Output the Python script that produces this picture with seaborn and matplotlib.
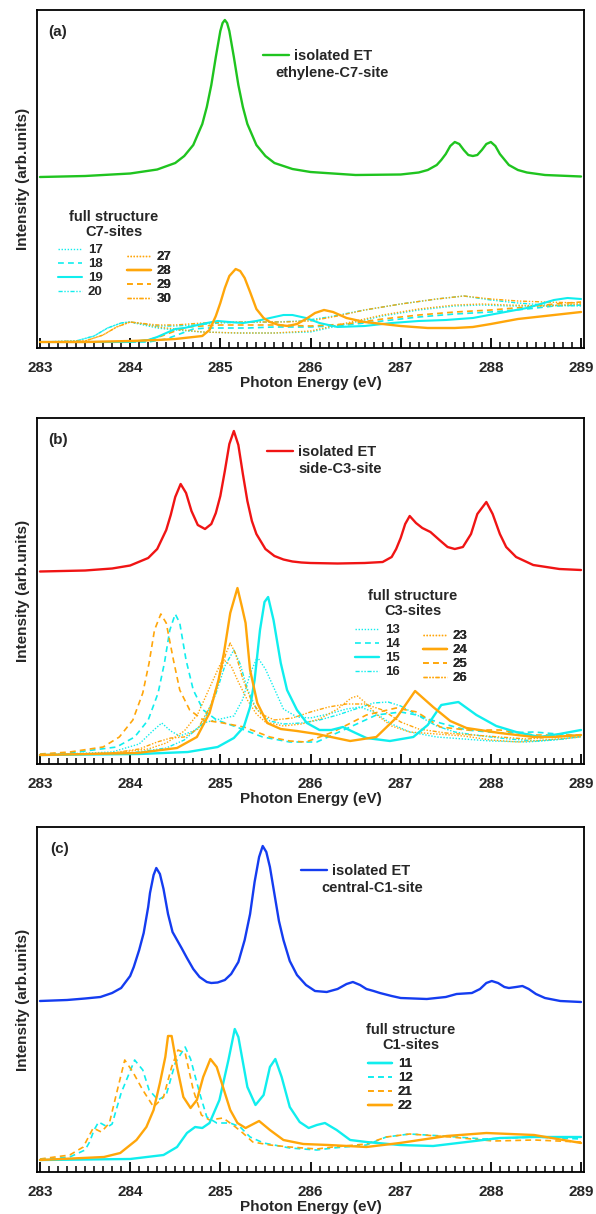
import matplotlib
matplotlib.use('Agg')
import matplotlib.pyplot as plt
import seaborn as sns
from matplotlib.ticker import MultipleLocator

sns.set_style('white')
plt.rcParams['font.family'] = ['Liberation Sans', 'DejaVu Sans']
plt.rcParams['font.weight'] = 'bold'
plt.rcParams['axes.labelweight'] = 'bold'

# ---------------- data (intensity in arbitrary units) ----------------
# panel (a) isolated ET, ethylene-C7-site
E_a_iso = [283.0, 283.5, 284.0, 284.3, 284.5, 284.6, 284.7, 284.8, 284.85, 284.9, 284.95, 285.0, 285.025, 285.05,
           285.075, 285.1, 285.15, 285.2, 285.25, 285.3, 285.4, 285.5, 285.6, 285.8, 286.0, 286.5, 287.0, 287.2,
           287.3, 287.4, 287.45, 287.5, 287.55, 287.6, 287.65, 287.7, 287.75, 287.8, 287.85, 287.9, 287.95, 288.0,
           288.05, 288.1, 288.2, 288.3, 288.4, 288.6, 289.0]
I_a_iso = [171, 172, 174.5, 178.5, 185, 192, 203, 224, 241, 263, 291, 317, 325, 328,
           325, 317, 291, 263, 241, 224, 203, 192, 185, 179, 176, 173, 173.5, 175.5,
           178, 183, 188, 194, 202, 206, 204, 198, 193, 192, 193, 198, 204, 206,
           202, 194, 183, 178, 175.5, 173, 171.5]
# panel (a) full structure C7-sites
E_17 = [283.0, 283.4, 283.6, 283.75, 283.9, 284.0, 284.15, 284.3, 284.5, 284.8, 285.2, 285.6, 286.0, 286.4, 286.8,
        287.2, 287.6, 287.9, 288.2, 288.6, 289.0]
I_17 = [6, 7, 12, 20, 25, 26, 23, 20, 18, 16, 15, 15, 16, 24, 32, 38, 42, 43, 42, 42, 43]
E_18 = [283.0, 284.2, 284.4, 284.55, 284.7, 284.85, 285.0, 285.3, 285.6, 286.0, 286.4, 286.8, 287.2, 287.6, 288.0,
        288.4, 288.7, 289.0]
I_18 = [6, 6, 9, 14, 19, 20, 20, 20, 21, 21, 23, 27, 31, 34, 36, 39, 42, 43]
E_19 = [283.0, 284.0, 284.2, 284.3, 284.4, 284.5, 284.6, 284.7, 284.85, 284.97, 285.1, 285.25, 285.4, 285.55, 285.7,
        285.8, 285.95, 286.1, 286.3, 286.6, 286.9, 287.2, 287.5, 287.8, 288.1, 288.4, 288.7, 288.85, 289.0]
I_19 = [6, 6, 8, 11, 15, 19, 20, 22, 25, 27, 26, 25, 27, 30, 33, 33, 30, 25, 21, 22, 25, 27, 28, 30, 35, 40, 48, 50, 49]
E_20 = [283.0, 283.4, 283.6, 283.75, 283.9, 284.0, 284.15, 284.3, 284.5, 284.7, 285.0, 285.3, 285.6, 285.9, 286.2,
        286.6, 287.0, 287.4, 287.7, 288.0, 288.3, 288.6, 289.0]
I_20 = [6, 7, 12, 20, 25, 26, 24, 22, 22, 23, 25, 26, 26, 27, 31, 38, 44, 49, 52, 48, 45, 43, 42]
E_27 = [283.0, 283.5, 283.7, 283.85, 284.0, 284.15, 284.3, 284.5, 284.8, 285.2, 285.6, 286.0, 286.4, 286.8, 287.2,
        287.6, 287.9, 288.2, 288.6, 289.0]
I_27 = [6, 7, 13, 21, 26, 24, 21, 19, 16, 15, 15, 17, 25, 33, 39, 43, 44, 43, 42, 44]
E_28 = [283.0, 283.5, 284.0, 284.3, 284.5, 284.7, 284.8, 284.88, 284.95, 285.0, 285.05, 285.1, 285.17, 285.22, 285.27,
        285.33, 285.4, 285.48, 285.55, 285.65, 285.75, 285.85, 285.95, 286.05, 286.15, 286.25, 286.4, 286.6, 286.8,
        287.0, 287.3, 287.6, 287.8, 288.0, 288.3, 288.6, 289.0]
I_28 = [6, 6, 7, 8, 9, 11, 12, 18, 32, 45, 60, 72, 79, 77, 70, 56, 39, 30, 26, 23, 22, 24, 29, 35, 38, 36, 30, 26, 24,
        22, 20, 20, 21, 24, 29, 32, 36]
E_29 = [283.0, 284.0, 284.2, 284.35, 284.5, 284.65, 284.8, 285.0, 285.3, 285.6, 286.0, 286.4, 286.8, 287.2, 287.6,
        288.0, 288.4, 288.7, 289.0]
I_29 = [6, 6, 8, 12, 17, 21, 22, 23, 23, 23, 22, 24, 29, 33, 36, 38, 41, 44, 46]
E_30 = [283.0, 283.5, 283.7, 283.85, 284.0, 284.1, 284.3, 284.5, 284.8, 285.1, 285.4, 285.7, 286.0, 286.3, 286.6,
        287.0, 287.4, 287.7, 288.0, 288.3, 288.6, 289.0]
I_30 = [6, 7, 13, 21, 26, 25, 23, 23, 25, 26, 26, 26, 27, 32, 38, 44, 49, 52, 49, 47, 46, 45]

# panel (b) isolated ET, side-C3-site
E_b_iso = [283.0, 283.5, 283.8, 284.0, 284.2, 284.3, 284.4, 284.45, 284.5, 284.56, 284.62, 284.68, 284.75, 284.83,
           284.9, 284.95, 285.0, 285.05, 285.1, 285.15, 285.2, 285.25, 285.3, 285.35, 285.4, 285.5, 285.6, 285.7,
           285.8, 285.9, 286.0, 286.3, 286.6, 286.8, 286.9, 286.95, 287.0, 287.05, 287.1, 287.17, 287.24, 287.33,
           287.43, 287.52, 287.6, 287.69, 287.78, 287.85, 287.95, 288.02, 288.1, 288.17, 288.28, 288.47, 288.76,
           289.0]
I_b_iso = [192.5, 193.5, 195.5, 198.5, 206, 215, 234, 249, 267, 280, 271, 253, 239, 235,
           240, 251, 268, 293, 320, 333, 319, 290, 263, 243, 230, 215, 208, 204.5,
           202.5, 201.5, 201, 200.5, 201, 202, 207, 215, 226, 240, 248, 241, 236, 232,
           224, 217, 215, 217, 230, 250, 262, 250, 230, 217, 207, 199, 195,
           194]
# panel (b) full structure C3-sites
E_13 = [283.0, 283.8, 284.1, 284.25, 284.35, 284.45, 284.55, 284.7, 284.85, 285.0, 285.15, 285.25, 285.33, 285.41,
        285.5, 285.6, 285.7, 285.85, 286.0, 286.2, 286.4, 286.55, 286.7, 286.9, 287.1, 287.4, 287.7, 288.0, 288.4,
        288.7, 289.0]
I_13 = [9, 12, 20, 33, 41, 33, 28, 33, 42, 45, 48, 65, 90, 107, 95, 75, 55, 47, 46, 50, 55, 57, 52, 40, 32, 27, 25,
        23, 22, 24, 27]
E_14 = [283.0, 283.33, 283.85, 284.05, 284.2, 284.31, 284.38, 284.44, 284.5, 284.55, 284.62, 284.7, 284.81, 284.96,
        285.18, 285.47, 285.77, 286.07, 286.44, 286.73, 287.0, 287.18, 287.44, 287.73, 288.1, 288.48, 289.0]
I_14 = [9, 11, 17, 27, 44, 71, 101, 134, 150, 141, 104, 74, 54, 44, 37, 27, 22, 22, 37, 49, 52, 49, 41, 34, 31, 32,
        28]
E_15 = [283.0, 284.1, 284.64, 284.97, 285.15, 285.26, 285.33, 285.38, 285.44, 285.49, 285.53, 285.59, 285.67, 285.74,
        285.85, 285.96, 286.1, 286.23, 286.36, 286.5, 286.62, 286.88, 287.14, 287.3, 287.45, 287.64, 287.84, 288.06,
        288.28, 288.54, 288.76, 289.0]
I_15 = [9, 10, 12, 17, 26, 37, 57, 84, 134, 162, 167, 144, 101, 74, 54, 41, 34, 34, 37, 31, 26, 23, 27, 39, 59, 62,
        49, 38, 32, 27, 30, 34]
E_16 = [283.0, 284.0, 284.4, 284.6, 284.8, 284.95, 285.05, 285.15, 285.22, 285.3, 285.4, 285.55, 285.7, 285.9, 286.1,
        286.3, 286.5, 286.7, 286.86, 287.0, 287.2, 287.4, 287.6, 287.9, 288.2, 288.5, 288.8, 289.0]
I_16 = [9, 11, 16, 24, 40, 70, 98, 114, 100, 75, 55, 43, 40, 41, 44, 49, 55, 61, 62, 58, 48, 38, 32, 28, 25, 23, 25,
        28]
E_23 = [283.0, 283.8, 284.2, 284.4, 284.6, 284.75, 284.9, 285.0, 285.04, 285.12, 285.2, 285.3, 285.4, 285.5, 285.7,
        285.9, 286.1, 286.3, 286.45, 286.52, 286.6, 286.75, 286.9, 287.1, 287.4, 287.7, 288.0, 288.3, 288.6, 289.0]
I_23 = [9, 11, 15, 21, 33, 50, 80, 100, 104, 98, 82, 64, 50, 42, 38, 40, 45, 55, 66, 68, 62, 48, 38, 32, 30, 28, 24,
        22, 24, 27]
E_24 = [283.0, 284.08, 284.52, 284.74, 284.88, 284.98, 285.04, 285.11, 285.19, 285.24, 285.28, 285.33, 285.41, 285.52,
        285.67, 285.85, 286.07, 286.44, 286.73, 286.96, 287.16, 287.36, 287.55, 287.73, 288.1, 288.48, 288.7, 289.0]
I_24 = [9, 11, 16, 27, 51, 84, 111, 151, 176, 157, 141, 94, 61, 41, 35, 33, 30, 23, 27, 47, 73, 57, 43, 36, 31, 27,
        27, 29]
E_25 = [283.0, 283.33, 283.7, 283.88, 284.03, 284.14, 284.21, 284.27, 284.34, 284.4, 284.48, 284.55, 284.66, 284.81,
        285.03, 285.26, 285.55, 285.77, 285.95, 286.25, 286.62, 286.95, 287.18, 287.44, 287.73, 288.1, 288.48, 289.0]
I_25 = [10, 12, 17, 27, 44, 71, 101, 134, 150, 141, 104, 74, 54, 44, 41, 37, 27, 23, 22, 32, 49, 56, 52, 37, 34, 34,
        29, 29]
E_26 = [283.0, 283.8, 284.1, 284.3, 284.45, 284.6, 284.75, 284.9, 285.0, 285.06, 285.11, 285.17, 285.25, 285.35,
        285.45, 285.6, 285.8, 286.0, 286.2, 286.4, 286.6, 286.8, 287.0, 287.2, 287.5, 287.8, 288.1, 288.4, 288.7, 289.0]
I_26 = [9, 11, 15, 22, 26, 27, 35, 60, 90, 110, 121, 110, 85, 62, 50, 44, 46, 52, 57, 60, 60, 54, 42, 35, 31, 29, 27,
        25, 27, 29]

# panel (c) isolated ET, central-C1-site
E_c_iso = [283.0, 283.3, 283.5, 283.67, 283.8, 283.9, 284.0, 284.04, 284.1, 284.15, 284.2, 284.22, 284.26, 284.29,
           284.33, 284.37, 284.42, 284.47, 284.52, 284.57, 284.63, 284.7, 284.77, 284.85, 284.9, 284.97, 285.05,
           285.12, 285.2, 285.27, 285.33, 285.38, 285.43, 285.47, 285.51, 285.55, 285.6, 285.65, 285.7, 285.77,
           285.85, 285.95, 286.05, 286.18, 286.3, 286.4, 286.47, 286.55, 286.62, 286.7, 286.77, 286.9, 287.0, 287.29,
           287.5, 287.62, 287.79, 287.88, 287.95, 288.01, 288.08, 288.15, 288.2, 288.28, 288.35, 288.42, 288.5, 288.6,
           288.77, 289.0]
I_c_iso = [171, 172, 173.5, 175, 179, 184, 196, 205, 222, 239, 265, 279, 297, 304,
           298, 283, 258, 240, 232, 224, 214, 203, 195, 190, 189, 189.5, 192,
           198, 210, 232, 258, 290, 315, 326, 320, 305, 278, 251, 232, 211,
           197, 187, 181, 180, 183, 188, 190, 187, 183, 181, 179, 176, 174, 173,
           175, 178, 179, 183, 189, 191, 189, 185, 184, 185, 186, 183, 178, 174,
           171, 170]
# panel (c) full structure C1-sites
E_11 = [283.0, 284.0, 284.37, 284.52, 284.63, 284.72, 284.8, 284.88, 284.99, 285.09, 285.16, 285.2, 285.3, 285.39,
        285.48, 285.55, 285.61, 285.68, 285.77, 285.88, 285.98, 286.07, 286.16, 286.29, 286.44, 286.62, 286.99,
        287.36, 287.73, 288.1, 288.48, 289.0]
I_11 = [12, 13, 17, 25, 39, 45, 44, 49, 72, 112, 143, 135, 85, 67, 77, 105, 113, 95, 65, 50, 44, 47, 49, 42, 32, 30,
        27, 26, 30, 34, 35, 35]
E_12 = [283.0, 283.33, 283.5, 283.55, 283.6, 283.65, 283.75, 283.8, 283.9, 284.05, 284.14, 284.21, 284.31, 284.4,
        284.5, 284.61, 284.67, 284.77, 284.85, 284.96, 285.11, 285.22, 285.33, 285.48, 285.77, 286.07, 286.25, 286.62,
        286.84, 287.1, 287.47, 287.92, 288.48, 289.0]
I_12 = [12, 15, 22, 30, 42, 50, 45, 48, 79, 112, 102, 82, 72, 77, 109, 125, 113, 79, 55, 49, 49, 45, 35, 29, 24, 22,
        24, 27, 35, 38, 36, 33, 35, 33]
E_21 = [283.0, 283.33, 283.48, 283.59, 283.68, 283.77, 283.85, 283.94, 284.03, 284.14, 284.26, 284.37, 284.46, 284.53,
        284.61, 284.7, 284.79, 284.88, 285.03, 285.14, 285.25, 285.36, 285.55, 285.77, 286.07, 286.25, 286.62, 286.84,
        287.1, 287.55, 288.03, 288.48, 289.0]
I_21 = [13, 17, 25, 44, 40, 49, 79, 112, 100, 82, 65, 75, 105, 122, 119, 82, 57, 52, 54, 47, 39, 30, 27, 25, 23, 25,
        28, 35, 38, 35, 31, 32, 30]
E_22 = [283.0, 283.71, 283.89, 284.07, 284.18, 284.26, 284.33, 284.39, 284.42, 284.46, 284.52, 284.59, 284.67, 284.74,
        284.81, 284.89, 284.96, 285.04, 285.11, 285.19, 285.28, 285.43, 285.55, 285.7, 285.92, 286.2, 286.62, 286.99,
        287.51, 287.95, 288.48, 289.0]
I_22 = [12, 15, 19, 32, 45, 62, 89, 115, 136, 136, 105, 75, 64, 72, 95, 113, 105, 82, 62, 49, 44, 51, 42, 32, 28, 27,
        25, 29, 36, 39, 37, 29]

XTICKS = [283, 284, 285, 286, 287, 288, 289]

# ---------------- styles ----------------
GREEN = '#1fc41f'
RED = '#f01414'
BLUE = '#143cf0'
CYAN = '#10eeee'
ORANGE = '#ffa60a'
SOLID = '-'
DOT = (0, (1, 1.2))
DASH = (0, (3.5, 2.5))
DDOT = (0, (3, 1.2, 1, 1.2, 1, 1.2))

fig = plt.figure(figsize=(5.96, 12.14), dpi=100)

# pixel geometry of the three panels (x0, x1, top, bottom)
PANELS = {'a': (37, 584, 10, 348), 'b': (37, 584, 418, 764), 'c': (37, 584, 827, 1172)}
W, H = 596, 1214


def make_axes(key):
    x0, x1, top, bot = PANELS[key]
    ax = fig.add_axes([x0 / W, (H - bot) / H, (x1 - x0) / W, (bot - top) / H])
    return ax


def fx(px, key):
    x0, x1, top, bot = PANELS[key]
    return (px - x0) / (x1 - x0)


def fy(py, key):
    x0, x1, top, bot = PANELS[key]
    return (bot - py) / (bot - top)


def draw(ax, E, I, color, ls, lw):
    sns.lineplot(x=E, y=I, ax=ax, color=color, linewidth=lw, errorbar=None, legend=False)
    line = ax.lines[-1]
    line.set_linestyle(ls)
    line.set_solid_joinstyle('round')
    return line


def style_axes(ax, key, ymax):
    ax.set_xlim(282.967, 289.033)
    ax.set_ylim(0, ymax)
    ax.set_xticks(XTICKS)
    ax.set_xticklabels([str(t) for t in XTICKS])
    ax.xaxis.set_minor_locator(MultipleLocator(0.1))
    ax.tick_params(axis='x', which='major', direction='in', length=7.5, width=1.3, labelsize=11, pad=9,
                   bottom=True, top=False, color='black')
    ax.tick_params(axis='x', which='minor', direction='in', length=4, width=1.1, bottom=True, top=False,
                   color='black')
    ax.set_yticks([])
    for s in ax.spines.values():
        s.set_visible(True)
        s.set_color('black')
        s.set_linewidth(1.3)
    ax.set_xlabel('Photon Energy (eV)', fontsize=11, fontweight='bold', labelpad=1)
    ax.set_ylabel('Intensity (arb.units)', fontsize=11, fontweight='bold', labelpad=5)


def iso_legend(ax, key, handle, line1, line2, hx, ty, cx2, cy2):
    leg = ax.legend([handle], [line1], loc='upper left', bbox_to_anchor=(fx(hx, key), fy(ty, key)),
                    bbox_transform=ax.transAxes, frameon=False, borderpad=0, borderaxespad=0,
                    handlelength=1.75, handletextpad=0.38, prop={'size': 10.5, 'weight': 'bold'})
    ax.add_artist(leg)
    ax.text(fx(cx2, key), fy(cy2, key), line2, transform=ax.transAxes, ha='center', va='center',
            fontsize=10.5, fontweight='bold')


def col_legend(ax, key, handles, labels, hx, ty):
    leg = ax.legend(handles, labels, loc='upper left', bbox_to_anchor=(fx(hx, key), fy(ty, key)),
                    bbox_transform=ax.transAxes, frameon=False, borderpad=0, borderaxespad=0,
                    handlelength=1.8, handletextpad=0.45, labelspacing=0.14,
                    prop={'size': 9.5, 'weight': 'bold'})
    ax.add_artist(leg)


def title_text(ax, key, text, cx, ty):
    ax.text(fx(cx, key), fy(ty, key), text, transform=ax.transAxes, ha='center', va='top',
            multialignment='center', fontsize=10.5, fontweight='bold', linespacing=1.12)


def panel_label(ax, key, text, lx, cy):
    ax.text(fx(lx, key), fy(cy, key), text, transform=ax.transAxes, ha='left', va='center',
            fontsize=11, fontweight='bold')


# ---------------- panel (a) ----------------
ax = make_axes('a')
l17 = draw(ax, E_17, I_17, CYAN, DOT, 1.0)
l18 = draw(ax, E_18, I_18, CYAN, DASH, 1.2)
l20 = draw(ax, E_20, I_20, CYAN, DDOT, 1.0)
l27 = draw(ax, E_27, I_27, ORANGE, DOT, 1.0)
l29 = draw(ax, E_29, I_29, ORANGE, DASH, 1.2)
l30 = draw(ax, E_30, I_30, ORANGE, DDOT, 1.0)
l19 = draw(ax, E_19, I_19, CYAN, SOLID, 1.5)
l28 = draw(ax, E_28, I_28, ORANGE, SOLID, 1.7)
liso = draw(ax, E_a_iso, I_a_iso, GREEN, SOLID, 1.7)
style_axes(ax, 'a', 338)
iso_legend(ax, 'a', liso, 'isolated ET', 'ethylene-C7-site', 263, 49, 332, 73)
title_text(ax, 'a', 'full structure\nC7-sites', 113.5, 210)
col_legend(ax, 'a', [l17, l18, l19, l20], ['17', '18', '19', '20'], 58, 244)
col_legend(ax, 'a', [l27, l28, l29, l30], ['27', '28', '29', '30'], 127, 251)
panel_label(ax, 'a', '(a)', 48, 32)

# ---------------- panel (b) ----------------
ax = make_axes('b')
l13 = draw(ax, E_13, I_13, CYAN, DOT, 1.0)
l14 = draw(ax, E_14, I_14, CYAN, DASH, 1.2)
l16 = draw(ax, E_16, I_16, CYAN, DDOT, 1.0)
l23 = draw(ax, E_23, I_23, ORANGE, DOT, 1.0)
l25 = draw(ax, E_25, I_25, ORANGE, DASH, 1.2)
l26 = draw(ax, E_26, I_26, ORANGE, DDOT, 1.0)
l15 = draw(ax, E_15, I_15, CYAN, SOLID, 1.7)
l24 = draw(ax, E_24, I_24, ORANGE, SOLID, 1.7)
liso = draw(ax, E_b_iso, I_b_iso, RED, SOLID, 1.7)
style_axes(ax, 'b', 346)
iso_legend(ax, 'b', liso, 'isolated ET', 'side-C3-site', 267, 445, 340, 469)
title_text(ax, 'b', 'full structure\nC3-sites', 413, 589)
col_legend(ax, 'b', [l13, l14, l15, l16], ['13', '14', '15', '16'], 355, 624)
col_legend(ax, 'b', [l23, l24, l25, l26], ['23', '24', '25', '26'], 423, 630)
panel_label(ax, 'b', '(b)', 48, 440)

# ---------------- panel (c) ----------------
ax = make_axes('c')
l12 = draw(ax, E_12, I_12, CYAN, DASH, 1.2)
l21 = draw(ax, E_21, I_21, ORANGE, DASH, 1.2)
l11 = draw(ax, E_11, I_11, CYAN, SOLID, 1.7)
l22 = draw(ax, E_22, I_22, ORANGE, SOLID, 1.7)
liso = draw(ax, E_c_iso, I_c_iso, BLUE, SOLID, 1.7)
style_axes(ax, 'c', 345)
iso_legend(ax, 'c', liso, 'isolated ET', 'central-C1-site', 301, 864, 372.5, 888)
title_text(ax, 'c', 'full structure\nC1-sites', 410.5, 1023)
col_legend(ax, 'c', [l11, l12, l21, l22], ['11', '12', '21', '22'], 368, 1058)
panel_label(ax, 'c', '(c)', 50, 849)

fig.savefig('out.png', dpi=100)
